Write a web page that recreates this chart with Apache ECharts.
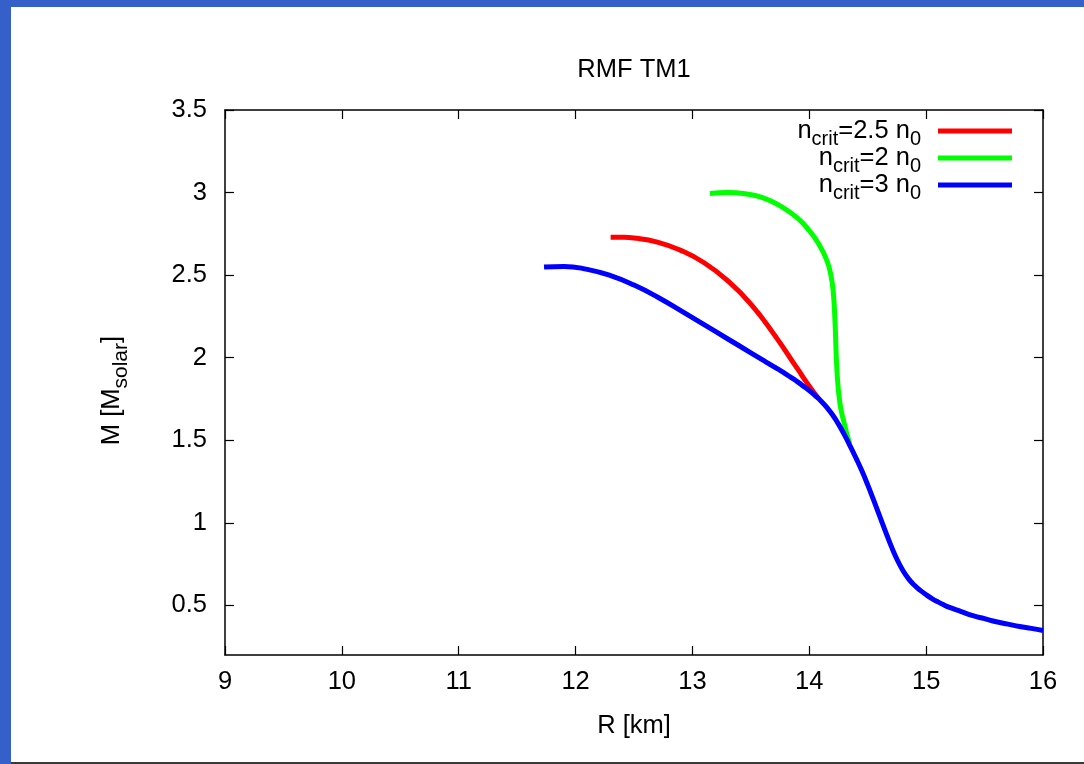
<!DOCTYPE html>
<html>
<head>
<meta charset="utf-8">
<script src="https://cdn.jsdelivr.net/npm/echarts@6/dist/echarts.min.js"></script>
<style>
html,body{margin:0;padding:0;background:#fff;}
#chart{width:1084px;height:764px;}
</style>
</head>
<body>
<div id="chart"></div>
<script>
// ---- data (R [km], M [M_solar]) ----
const titleText = 'RMF TM1';
const xTicks = [9, 10, 11, 12, 13, 14, 15, 16];
const yTicks = [0.5, 1, 1.5, 2, 2.5, 3, 3.5];

const seriesNames = ['n{sub|crit}=2.5 n{sub|0}', 'n{sub|crit}=2 n{sub|0}', 'n{sub|crit}=3 n{sub|0}'];
const seriesColors = ['#ff0000', '#00ff00', '#0000ff'];

const red25 = [
  [12.30, 2.730], [12.40, 2.7295], [12.50, 2.725], [12.70, 2.700], [12.90, 2.650],
  [13.10, 2.575], [13.30, 2.467], [13.50, 2.325], [13.70, 2.140], [13.90, 1.932],
  [14.00, 1.828], [14.08, 1.752]
];
const green2 = [
  [13.15, 2.995], [13.30, 3.000], [13.45, 2.993], [13.60, 2.970], [13.75, 2.920],
  [13.90, 2.845], [14.00, 2.770], [14.08, 2.690], [14.15, 2.590], [14.185, 2.500],
  [14.205, 2.400], [14.22, 2.220], [14.237, 1.920], [14.263, 1.720], [14.30, 1.600],
  [14.345, 1.480]
];
const blue3 = [
  [11.73, 2.550], [11.90, 2.553], [12.10, 2.535], [12.30, 2.497], [12.50, 2.440],
  [12.70, 2.368], [12.90, 2.285], [13.10, 2.200], [13.30, 2.115], [13.50, 2.030],
  [13.60, 1.987], [13.65, 1.966], [13.70, 1.944], [13.75, 1.923], [13.80, 1.901],
  [13.85, 1.878], [13.90, 1.854], [13.95, 1.828], [14.00, 1.801], [14.05, 1.771],
  [14.10, 1.738], [14.15, 1.699], [14.20, 1.653], [14.25, 1.598], [14.30, 1.534],
  [14.35, 1.465], [14.40, 1.392], [14.45, 1.315], [14.50, 1.230], [14.55, 1.139],
  [14.60, 1.045], [14.65, 0.952], [14.70, 0.861], [14.75, 0.780], [14.80, 0.713],
  [14.85, 0.661], [14.90, 0.622], [14.95, 0.591], [15.00, 0.565], [15.05, 0.542],
  [15.10, 0.522], [15.15, 0.504], [15.20, 0.488], [15.30, 0.463], [15.40, 0.438],
  [15.50, 0.420], [15.60, 0.401], [15.70, 0.387], [15.80, 0.373], [15.90, 0.361],
  [16.00, 0.348]
];
const seriesData = [red25, green2, blue3];

// ---- chart ----
const FONT = "'Liberation Sans', Arial, sans-serif";
const FS = 25.5;
const BORDER = '#3660c9';

const chart = echarts.init(document.getElementById('chart'), null, {renderer: 'canvas'});

const richSub = {
  sub: {fontSize: 20, fontFamily: FONT, color: '#000', lineHeight: 20, padding: [16, 0, 0, 0]}
};

const axisCommon = {
  axisLine: {show: true, onZero: false, lineStyle: {color: '#000', width: 1.5}},
  axisTick: {show: true, inside: true, length: 9, lineStyle: {color: '#000', width: 1.2}},
  splitLine: {show: false}
};

const option = {
  backgroundColor: '#fff',
  animation: false,
  title: {
    text: titleText,
    left: 634, top: 57, textAlign: 'center', padding: 0,
    textStyle: {fontFamily: FONT, fontSize: FS, fontWeight: 'normal', color: '#000'}
  },
  graphic: [
    {type: 'rect', shape: {x: 0, y: 0, width: 1084, height: 7}, style: {fill: BORDER}, z: 100},
    {type: 'rect', shape: {x: 0, y: 0, width: 11, height: 764}, style: {fill: BORDER}, z: 100},
    {type: 'rect', shape: {x: 11, y: 762, width: 1073, height: 2}, style: {fill: '#3a3a3a'}, z: 100}
  ],
  legend: {
    orient: 'vertical', align: 'right',
    right: 72, top: 113, padding: 0,
    itemGap: -9, itemWidth: 74, itemHeight: 5,
    icon: 'rect',
    data: seriesNames,
    textStyle: {
      fontFamily: FONT, fontSize: FS, color: '#000', lineHeight: 26,
      padding: [0, 12, 0, 0],
      rich: richSub
    }
  },
  grid: {left: 225, right: 41, top: 110, bottom: 109, containLabel: false},
  xAxis: [
    Object.assign({}, axisCommon, {
      type: 'value', position: 'bottom', min: 9, max: 16, interval: 1,
      axisLabel: {show: true, margin: 14, color: '#000', fontFamily: FONT, fontSize: FS,
        customValues: xTicks},
      axisTick: Object.assign({}, axisCommon.axisTick, {customValues: xTicks}),
      name: 'R [km]', nameLocation: 'middle', nameGap: 58,
      nameTextStyle: {fontFamily: FONT, fontSize: FS, color: '#000'}
    }),
    Object.assign({}, axisCommon, {
      type: 'value', position: 'top', min: 9, max: 16, interval: 1,
      axisLabel: {show: false},
      axisTick: Object.assign({}, axisCommon.axisTick, {customValues: xTicks})
    })
  ],
  yAxis: [
    Object.assign({}, axisCommon, {
      type: 'value', position: 'left', min: 0.2, max: 3.5,
      axisLabel: {show: true, margin: 18, color: '#000', fontFamily: FONT, fontSize: FS,
        customValues: yTicks},
      axisTick: Object.assign({}, axisCommon.axisTick, {customValues: yTicks}),
      name: 'M [M{sub|solar}]', nameLocation: 'middle', nameGap: 100, nameRotate: 90,
      nameTextStyle: {fontFamily: FONT, fontSize: FS, color: '#000', lineHeight: 26,
        padding: [0, 16, 0, 0],
        rich: {sub: {fontSize: 21, fontFamily: FONT, color: '#000', lineHeight: 21, padding: [18, 0, 0, 0]}}}
    }),
    Object.assign({}, axisCommon, {
      type: 'value', position: 'right', min: 0.2, max: 3.5,
      axisLabel: {show: false},
      axisTick: Object.assign({}, axisCommon.axisTick, {customValues: yTicks})
    })
  ],
  series: [1, 0, 2].map(function (i) {
    return {
      name: seriesNames[i],
      type: 'line',
      data: seriesData[i],
      showSymbol: false,
      smooth: 0.5,
      clip: true,
      color: seriesColors[i],
      lineStyle: {color: seriesColors[i], width: 5, cap: 'butt', join: 'round'},
      emphasis: {disabled: true},
      z: 2 + i
    };
  })
};

chart.setOption(option);
</script>
</body>
</html>
